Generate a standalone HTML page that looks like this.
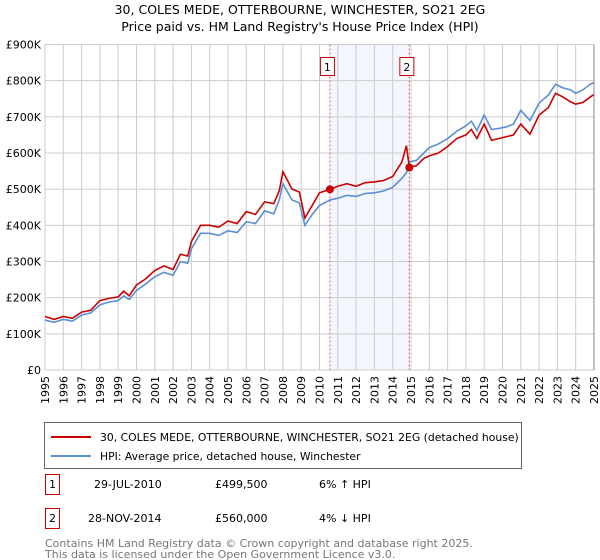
<!DOCTYPE html>
<html><head><meta charset="utf-8"><style>
body{margin:0;background:#fff;font-family:"DejaVu Sans","Liberation Sans",sans-serif;}
svg{display:block}
</style></head><body>
<svg width="600" height="560" viewBox="0 0 600 560">
<text x="300" y="14" text-anchor="middle" font-size="12.5" fill="#000">30, COLES MEDE, OTTERBOURNE, WINCHESTER, SO21 2EG</text>
<text x="300" y="31" text-anchor="middle" font-size="12.5" fill="#000">Price paid vs. HM Land Registry's House Price Index (HPI)</text>
<g id="plot"></g>
<g>
<rect x="44.5" y="422.5" width="477" height="46" fill="#fff" stroke="#666"/>
<line x1="51" y1="437" x2="91" y2="437" stroke="#cc0000" stroke-width="2"/>
<text x="100" y="441" font-size="10.8">30, COLES MEDE, OTTERBOURNE, WINCHESTER, SO21 2EG (detached house)</text>
<line x1="51" y1="456" x2="91" y2="456" stroke="#5b8fd4" stroke-width="2"/>
<text x="100" y="460" font-size="10.8">HPI: Average price, detached house, Winchester</text>
</g>
<g font-size="11">
<rect x="45.5" y="474.5" width="14" height="20" fill="#fff" stroke="#cc0000"/>
<text x="52.5" y="488" text-anchor="middle">1</text>
<text x="94" y="488">29-JUL-2010</text>
<text x="215" y="488">£499,500</text>
<text x="319" y="488">6% ↑ HPI</text>
<rect x="45.5" y="508.5" width="14" height="20" fill="#fff" stroke="#cc0000"/>
<text x="52.5" y="522" text-anchor="middle">2</text>
<text x="88" y="522">28-NOV-2014</text>
<text x="215" y="522">£560,000</text>
<text x="319" y="522">4% ↓ HPI</text>
</g>
<text x="45" y="547" font-size="11" fill="#777">Contains HM Land Registry data © Crown copyright and database right 2025.</text>
<text x="45" y="558" font-size="11" fill="#777">This data is licensed under the Open Government Licence v3.0.</text>
</svg>
<script>
const years=[1995,1996,1997,1998,1999,2000,2001,2002,2003,2004,2005,2006,2007,2008,2009,2010,2011,2012,2013,2014,2015,2016,2017,2018,2019,2020,2021,2022,2023,2024,2025];
const yTicks=[0,100000,200000,300000,400000,500000,600000,700000,800000,900000];
const yTickLabels=["£0","£100K","£200K","£300K","£400K","£500K","£600K","£700K","£800K","£900K"];
const hpiT=[1995,1995.5,1996,1996.5,1997,1997.5,1998,1998.5,1999,1999.3,1999.6,2000,2000.5,2001,2001.5,2002,2002.4,2002.8,2003,2003.5,2004,2004.5,2005,2005.5,2006,2006.5,2007,2007.5,2007.8,2008,2008.5,2008.9,2009.2,2009.6,2010,2010.57,2011,2011.5,2012,2012.5,2013,2013.5,2014,2014.5,2014.75,2014.91,2015.3,2015.7,2016,2016.5,2017,2017.5,2018,2018.3,2018.6,2019,2019.4,2019.8,2020.2,2020.6,2021,2021.5,2022,2022.5,2022.9,2023.3,2023.7,2024,2024.4,2024.8,2025];
const hpiV=[138000,132000,140000,135000,152000,158000,180000,188000,192000,205000,195000,220000,238000,258000,270000,262000,300000,295000,335000,378000,378000,372000,385000,380000,410000,405000,440000,432000,470000,515000,470000,462000,400000,430000,455000,470000,475000,483000,480000,488000,490000,495000,505000,530000,545000,575000,580000,600000,615000,625000,640000,660000,675000,688000,662000,705000,665000,668000,672000,680000,718000,690000,738000,760000,790000,780000,775000,765000,775000,790000,795000];
const priceT=hpiT;
const priceV=[148000,140000,148000,143000,160000,165000,192000,198000,202000,218000,205000,235000,252000,275000,288000,278000,320000,315000,355000,400000,400000,395000,412000,405000,438000,430000,465000,460000,495000,548000,500000,492000,420000,455000,490000,499500,508000,515000,508000,518000,520000,524000,535000,575000,620000,560000,565000,585000,592000,600000,618000,640000,650000,665000,640000,680000,635000,640000,645000,650000,680000,652000,705000,725000,765000,755000,742000,735000,740000,755000,762000];
const sales=[{t:2010.57,v:499500,n:"1"},{t:2014.91,v:560000,n:"2"}];
const X0=45,X1=594,Y0=370,Y1=44.5;
const x=t=>X0+(t-1995)/30*(X1-X0);
const y=v=>Y0-v/900000*(Y0-Y1);
const NS="http://www.w3.org/2000/svg";
const g=document.getElementById('plot');
function mk(tag,attrs,parent){const e=document.createElementNS(NS,tag);for(const k in attrs)e.setAttribute(k,attrs[k]);(parent||g).appendChild(e);return e;}
const band=mk('rect',{x:x(sales[0].t),y:Y1,width:x(sales[1].t)-x(sales[0].t),height:Y0-Y1,fill:'#eef2fc',opacity:0.7});


years.forEach(yr=>{
 const l=mk('line',{x1:x(yr),x2:x(yr),y1:Y1,y2:Y0,stroke:'#ccc','stroke-width':1});
 
 
 const t=mk('text',{transform:`translate(${x(yr)+4},${Y0+6}) rotate(-90)`,'text-anchor':'end','font-size':11});
 t.textContent=yr;
 
 
});
yTicks.forEach((v,i)=>{
 const l=mk('line',{x1:X0,x2:X1,y1:y(v),y2:y(v),stroke:'#ccc','stroke-width':1});
 
 
 const t=mk('text',{x:X0-4,y:y(v)+4,'text-anchor':'end','font-size':11});
 t.textContent=yTickLabels[i];
 
 
});
sales.forEach(s=>{
 const l=mk('line',{x1:x(s.t),x2:x(s.t),y1:Y1,y2:Y0,stroke:'#e55','stroke-width':1,'stroke-dasharray':'2,2'});
 
 
 const b=mk('rect',{x:x(s.t)-9.5,y:57.5,width:14,height:18,fill:'#fff',stroke:'#cc0000'});
 
 
 const t=mk('text',{x:x(s.t)-2.5,y:71,'text-anchor':'middle','font-size':11});
 t.textContent=s.n;
 
 
});
const hp=mk('polyline',{points:hpiT.map((t,i)=>x(t)+','+y(hpiV[i])).join(' '),fill:'none',stroke:'#5b8fd4','stroke-width':1.6});


const pp=mk('polyline',{points:priceT.map((t,i)=>x(t)+','+y(priceV[i])).join(' '),fill:'none',stroke:'#cc0000','stroke-width':1.6});


sales.forEach(s=>{
 const c=mk('circle',{cx:x(s.t),cy:y(s.v),r:4,fill:'#cc0000'});
 
 
});
const fr=mk('line',{x1:X1,x2:X1,y1:Y1,y2:Y0,stroke:'#888','stroke-width':1});


</script>
</body></html>
